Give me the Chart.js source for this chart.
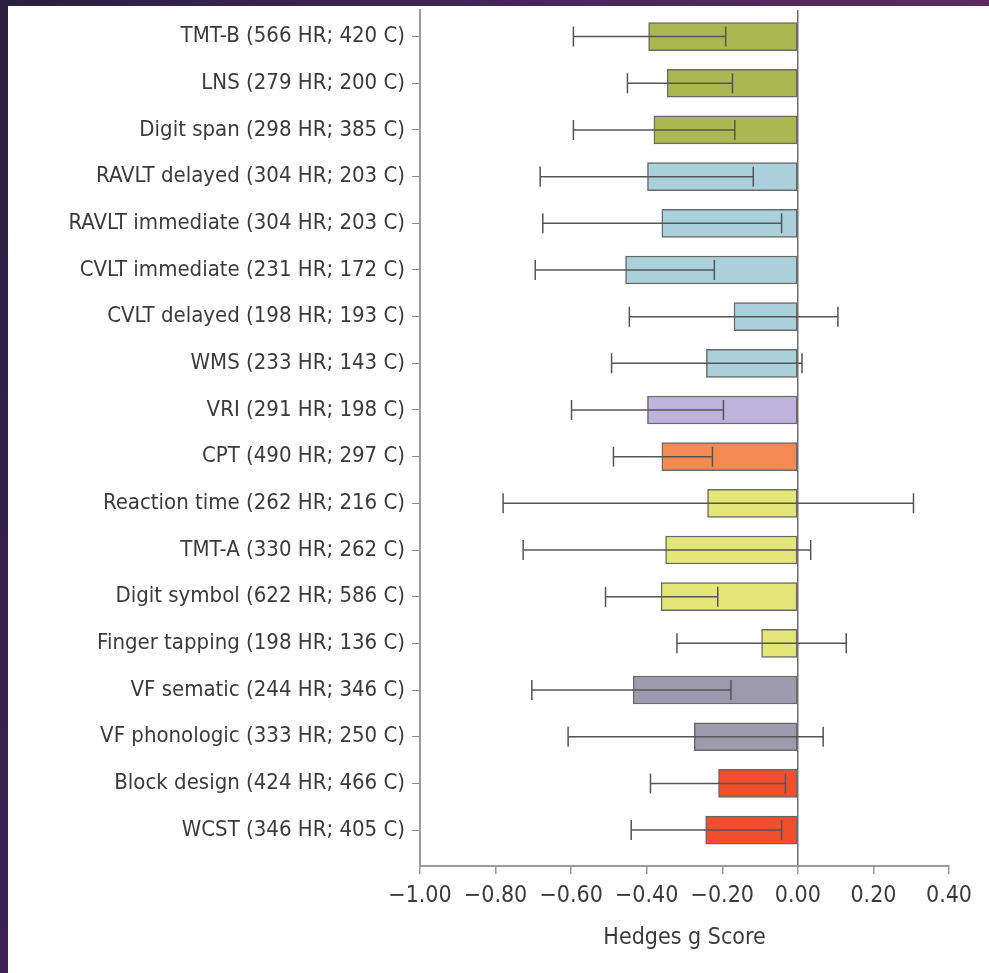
<!DOCTYPE html>
<html>
<head>
<meta charset="utf-8">
<script src="https://cdn.jsdelivr.net/npm/chart.js@4/dist/chart.umd.min.js"></script>
<style>
  html, body { margin: 0; padding: 0; }
  body {
    width: 989px; height: 973px; overflow: hidden;
    background: linear-gradient(180deg, #2c1f42 0%, #3a2150 100%);
  }
  #topband {
    position: absolute; left: 0; top: 0; width: 989px; height: 6px;
    background: linear-gradient(90deg, #2b1f40 0%, #45255a 50%, #5b2b60 100%);
  }
  #wrap {
    position: absolute; left: 8px; top: 6px; width: 981px; height: 967px;
    background: #fff;
  }
</style>
</head>
<body>
<div id="topband"></div>
<div id="wrap"><canvas id="chart" width="981" height="967"></canvas></div>
<script>
const labels = [
  "TMT-B (566 HR; 420 C)",
  "LNS (279 HR; 200 C)",
  "Digit span (298 HR; 385 C)",
  "RAVLT delayed (304 HR; 203 C)",
  "RAVLT immediate (304 HR; 203 C)",
  "CVLT immediate (231 HR; 172 C)",
  "CVLT delayed (198 HR; 193 C)",
  "WMS (233 HR; 143 C)",
  "VRI (291 HR; 198 C)",
  "CPT (490 HR; 297 C)",
  "Reaction time (262 HR; 216 C)",
  "TMT-A (330 HR; 262 C)",
  "Digit symbol (622 HR; 586 C)",
  "Finger tapping (198 HR; 136 C)",
  "VF sematic (244 HR; 346 C)",
  "VF phonologic (333 HR; 250 C)",
  "Block design (424 HR; 466 C)",
  "WCST (346 HR; 405 C)"
];

const hedgesG = [-0.395, -0.346, -0.381, -0.398, -0.360, -0.456, -0.169, -0.242, -0.398,
  -0.360, -0.239, -0.350, -0.362, -0.096, -0.436, -0.274, -0.210, -0.244];
const ciLow = [-0.594, -0.451, -0.594, -0.682, -0.675, -0.695, -0.446, -0.493, -0.599,
  -0.488, -0.780, -0.727, -0.509, -0.320, -0.704, -0.608, -0.390, -0.441];
const ciHigh = [-0.191, -0.173, -0.167, -0.118, -0.043, -0.221, 0.106, 0.011, -0.197,
  -0.226, 0.306, 0.034, -0.212, 0.128, -0.177, 0.067, -0.033, -0.043];

const xTicks = [-1.0, -0.8, -0.6, -0.4, -0.2, 0.0, 0.2, 0.4];

const barColors = [
  "#a9b850", "#a9b850", "#a9b850",
  "#a9d0db", "#a9d0db", "#a9d0db", "#a9d0db", "#a9d0db",
  "#bdb3dc",
  "#f38a52",
  "#e5e678", "#e5e678", "#e5e678", "#e5e678",
  "#9c9aac", "#9c9aac",
  "#f14e2e", "#f14e2e"
];

const fontFamily = "'Liberation Sans Narrow', 'DejaVu Sans Condensed', sans-serif";
const textColor = "#3b3b3b";

// horizontal confidence interval lines with end caps
const errorBars = {
  id: "errorBars",
  afterDatasetsDraw(chart) {
    const { ctx, scales: { x, y } } = chart;
    ctx.save();
    ctx.strokeStyle = "#555";
    ctx.lineWidth = 1.5;
    labels.forEach((_, i) => {
      const py = y.getPixelForValue(i);
      const x1 = x.getPixelForValue(ciLow[i]);
      const x2 = x.getPixelForValue(ciHigh[i]);
      ctx.beginPath();
      ctx.moveTo(x1, py);
      ctx.lineTo(x2, py);
      ctx.moveTo(x1, py - 10);
      ctx.lineTo(x1, py + 10);
      ctx.moveTo(x2, py - 10);
      ctx.lineTo(x2, py + 10);
      ctx.stroke();
    });
    ctx.restore();
  }
};

const ctx = document.querySelector("#chart").getContext("2d");

new Chart(ctx, {
  type: "bar",
  data: {
    datasets: [{
      data: hedgesG.map((g, i) => ({ x: g, y: i })),
      backgroundColor: barColors,
      borderColor: "#6a6a6a",
      borderWidth: 1.5,
      borderSkipped: false,
      barThickness: 28
    }]
  },
  options: {
    indexAxis: "y",
    responsive: false,
    animation: false,
    layout: { padding: { top: 4, right: 40, bottom: 0, left: 0 } },
    plugins: {
      legend: { display: false },
      tooltip: { enabled: false }
    },
    scales: {
      x: {
        type: "linear",
        min: -1.0,
        max: 0.4,
        afterBuildTicks: (axis) => { axis.ticks = xTicks.map((v) => ({ value: v })); },
        afterFit: (axis) => { axis.height = 107; },
        border: { color: "#9a9a9a", width: 2 },
        grid: {
          drawOnChartArea: true,
          color: (c) => (c.tick && c.tick.value === 0 ? "#707070" : "rgba(0,0,0,0)"),
          lineWidth: 1.5,
          tickColor: "#9a9a9a",
          tickLength: 8
        },
        ticks: {
          color: textColor,
          padding: 8,
          autoSkip: false,
          maxRotation: 0,
          minRotation: 0,
          font: { family: fontFamily, size: 23 },
          callback: (v) => (v < 0 ? "\u2212" + Math.abs(v).toFixed(2) : v.toFixed(2))
        },
        title: {
          display: true,
          text: "Hedges g Score",
          color: textColor,
          font: { family: fontFamily, size: 23 },
          padding: { top: 0, bottom: 21 }
        }
      },
      y: {
        type: "linear",
        reverse: true,
        offset: false,
        min: -0.57,
        max: 17.77,
        afterBuildTicks: (axis) => { axis.ticks = labels.map((_, i) => ({ value: i })); },
        afterFit: (axis) => {
          axis.width = 412;
          axis.paddingTop = 0;
          axis.paddingBottom = 0;
        },
        border: { color: "#9a9a9a", width: 2 },
        grid: {
          offset: false,
          drawOnChartArea: false,
          tickColor: "#8a8a8a",
          tickLength: 8
        },
        ticks: {
          color: textColor,
          padding: 7,
          autoSkip: false,
          font: { family: fontFamily, size: 22 },
          callback: (v) => labels[v]
        }
      }
    }
  },
  plugins: [errorBars]
});
</script>
</body>
</html>
